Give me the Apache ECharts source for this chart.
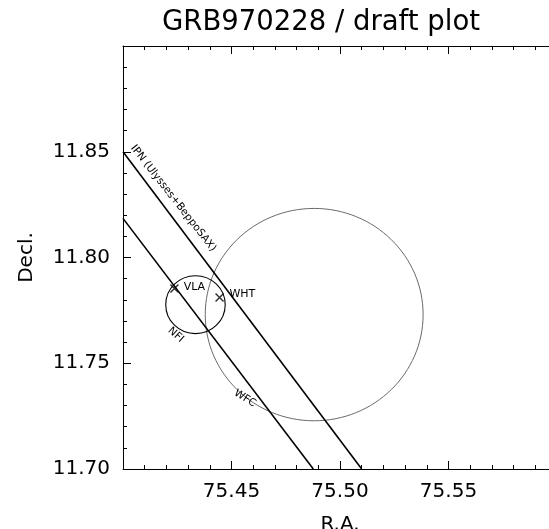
<!DOCTYPE html>
<html>
<head>
<meta charset="utf-8">
<script src="https://cdn.jsdelivr.net/npm/echarts@6/dist/echarts.min.js"></script>
<style>html,body{margin:0;padding:0;background:#fff;}#c{width:549px;height:529px;}</style>
</head>
<body>
<div id="c"></div>
<script>
// ---- data ----
var titleText = 'GRB970228 / draft plot';
var xRange = [75.40, 75.60];
var yRange = [11.70, 11.90];
// IPN annulus edges (Ulysses+BeppoSAX)
var ipnUpper = [[75.40, 11.850], [75.510, 11.700]];
var ipnLower = [[75.40, 11.8185], [75.4877, 11.700]];
// error circles: [ra, dec, radius]
var wfcCircle = [75.4881, 11.7730, 0.0502];
var nfiCircle = [75.4334, 11.7777, 0.0137];
// counterpart positions
var vlaPos = [75.4237, 11.7853];
var whtPos = [75.4445, 11.7811];
// text labels: [ra, dec, text, rotation(deg), size]
var labels = [
  [75.4329, 11.7861, 'VLA', 0, 11],
  [75.4550, 11.7827, 'WHT', 0, 11],
  [75.4243, 11.7634, 'NFI', -42, 10.5],
  [75.4562, 11.7334, 'WFC', -32, 10.5],
  [75.4232, 11.8280, 'IPN (Ulysses+BeppoSAX)', -52, 10.5]
];

var chart = echarts.init(document.getElementById('c'));
var FONT = 'DejaVu Sans';
function circleSeries(c, color, width) {
  return {
    type: 'custom', coordinateSystem: 'cartesian2d', clip: true, silent: true,
    data: [c],
    renderItem: function (params, api) {
      var ctr = api.coord([api.value(0), api.value(1)]);
      var r = api.value(2);
      var rx = api.size([r, 0])[0];
      var ry = api.size([0, r])[1];
      return {type: 'ellipse', shape: {cx: ctr[0], cy: ctr[1], rx: rx, ry: ry},
        style: {fill: 'none', stroke: color, lineWidth: width}};
    }
  };
}
var crossPath = 'path://M0,0L10,10M10,0L0,10';
var axisCommon = {
  type: 'value',
  axisLine: {show: true, lineStyle: {color: '#000', width: 1}},
  axisTick: {show: true, inside: true, length: 8, lineStyle: {color: '#000'}},
  minorTick: {show: true, splitNumber: 5, length: 4, lineStyle: {color: '#000'}},
  splitLine: {show: false},
  minorSplitLine: {show: false}
};
var option = {
  animation: false,
  backgroundColor: '#fff',
  title: {text: titleText, left: 162, top: 9, padding: 0,
    textStyle: {fontFamily: FONT, fontSize: 27.5, fontWeight: 'normal', color: '#000'}},
  grid: {left: 123, top: 46, width: 434, height: 423, outerBoundsMode: 'none', containLabel: false},
  xAxis: [
    Object.assign({}, axisCommon, {
      position: 'bottom', min: xRange[0], max: xRange[1], interval: 0.05,
      name: 'R.A.', nameLocation: 'middle', nameGap: 46,
      nameTextStyle: {fontFamily: FONT, fontSize: 20, color: '#000'},
      axisLabel: {show: true, margin: 13, showMinLabel: false, showMaxLabel: false,
        fontFamily: FONT, fontSize: 20, color: '#000',
        formatter: function (v) { return v.toFixed(2); }}
    }),
    Object.assign({}, axisCommon, {
      position: 'top', min: xRange[0], max: xRange[1], interval: 0.05,
      axisLabel: {show: false}
    })
  ],
  yAxis: [
    Object.assign({}, axisCommon, {
      position: 'left', min: yRange[0], max: yRange[1], interval: 0.05,
      name: 'Decl.', nameLocation: 'middle', nameGap: 86,
      nameTextStyle: {fontFamily: FONT, fontSize: 20, color: '#000'},
      axisLabel: {show: true, margin: 13, showMaxLabel: false,
        fontFamily: FONT, fontSize: 20, color: '#000',
        formatter: function (v) { return v.toFixed(2); }}
    }),
    Object.assign({}, axisCommon, {
      position: 'right', min: yRange[0], max: yRange[1], interval: 0.05,
      axisLabel: {show: false}
    })
  ],
  series: [
    {type: 'line', data: ipnUpper, symbol: 'none', clip: true, silent: true,
      lineStyle: {color: '#000', width: 1.6}},
    {type: 'line', data: ipnLower, symbol: 'none', clip: true, silent: true,
      lineStyle: {color: '#000', width: 1.6}},
    circleSeries(wfcCircle, '#6a6a6a', 1),
    circleSeries(nfiCircle, '#000', 1.1),
    {type: 'scatter', data: [vlaPos, whtPos], symbol: crossPath, symbolSize: 8, silent: true,
      itemStyle: {color: 'none', borderColor: '#000', borderWidth: 1.5}},
    {type: 'custom', coordinateSystem: 'cartesian2d', silent: true,
      data: labels.map(function (l, i) { return [l[0], l[1], i]; }),
      renderItem: function (params, api) {
        var l = labels[api.value(2)];
        var p = api.coord([api.value(0), api.value(1)]);
        return {type: 'text', x: p[0], y: p[1], rotation: l[3] * Math.PI / 180,
          style: {text: l[2], fill: '#000', fontFamily: FONT, fontSize: l[4],
            align: 'center', verticalAlign: 'middle'}};
      }
    }
  ]
};
chart.setOption(option);
</script>
</body>
</html>
